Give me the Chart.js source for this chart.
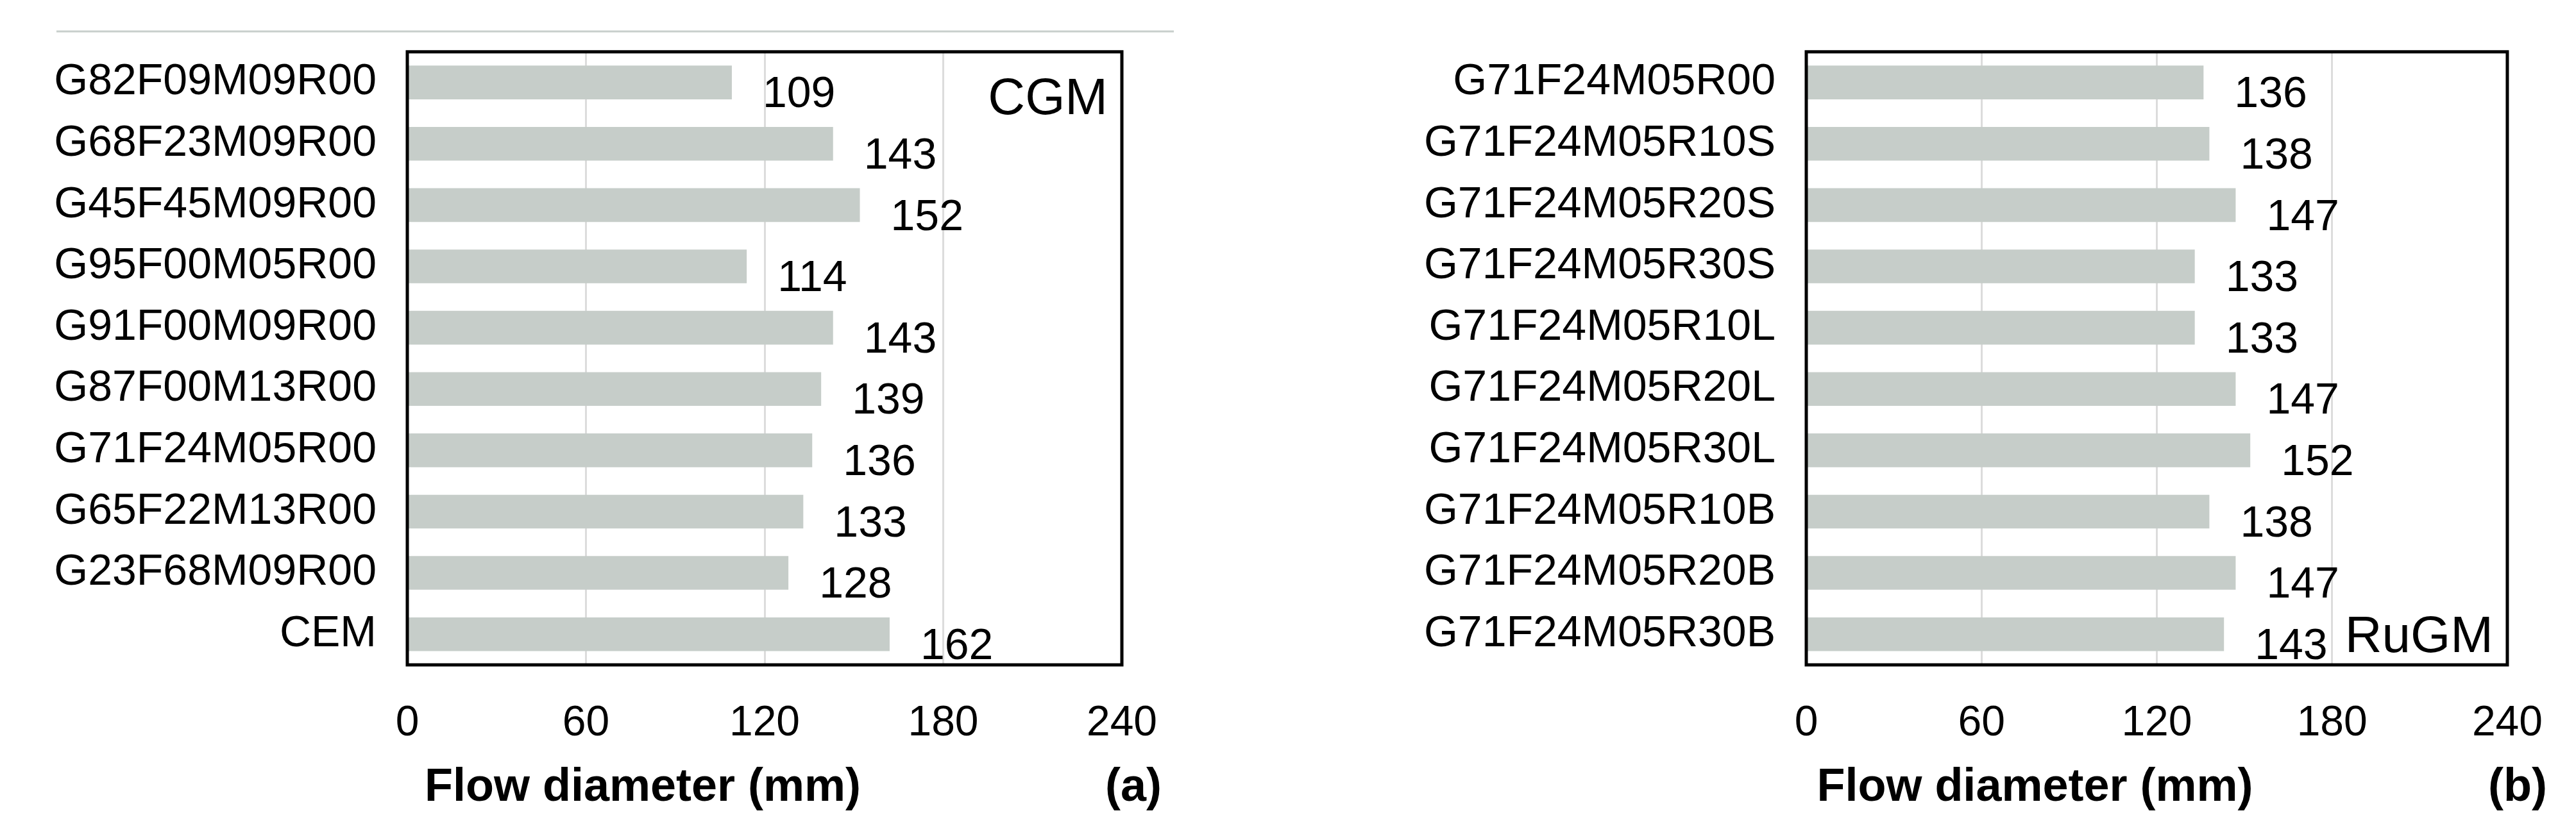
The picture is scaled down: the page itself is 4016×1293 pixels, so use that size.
<!DOCTYPE html>
<html><head><meta charset="utf-8">
<script src="https://cdn.jsdelivr.net/npm/chart.js@4"></script>
<style>body{margin:0;background:#fff;width:4016px;height:1293px;overflow:hidden}
.c{position:absolute;top:0;width:2008px;height:1293px}</style></head>
<body>
<div class="c" style="left:0"><canvas id="a" width="2008" height="1293"></canvas></div>
<div class="c" style="left:2008px"><canvas id="b" width="2008" height="1293"></canvas></div>
<script>
const labelsA=["G82F09M09R00","G68F23M09R00","G45F45M09R00","G95F00M05R00","G91F00M09R00","G87F00M13R00","G71F24M05R00","G65F22M13R00","G23F68M09R00","CEM"];
const valuesA=[109,143,152,114,143,139,136,133,128,162];
const labelsB=["G71F24M05R00","G71F24M05R10S","G71F24M05R20S","G71F24M05R30S","G71F24M05R10L","G71F24M05R20L","G71F24M05R30L","G71F24M05R10B","G71F24M05R20B","G71F24M05R30B"];
const valuesB=[136,138,147,133,133,147,152,138,147,143];
const xTicks=[0,60,120,180,240];
const F='"Liberation Sans", Arial, sans-serif';
function make(id,labels,values,tag,tagPos,letter,yW,padR,topLine){
  const deco={id:'deco',afterDatasetsDraw(c){
    const g=c.ctx,a=c.chartArea,m=c.getDatasetMeta(0);
    g.save();
    g.fillStyle='#000';g.font='68px '+F;g.textAlign='left';g.textBaseline='middle';
    m.data.forEach((b,i)=>g.fillText(String(values[i]),b.x+48,b.y+20));
    g.lineWidth=5;g.strokeStyle='#000';g.strokeRect(a.left,a.top,a.right-a.left,a.bottom-a.top);
    g.font='80px '+F;g.textAlign='right';
    g.fillText(tag,a.right-22,tagPos==='top'?a.top+75:a.bottom-42);
    g.font='bold 72px '+F;g.textAlign='center';
    g.fillText('Flow diameter (mm)',(a.left+a.right)/2-190,1229);
    g.textAlign='right';g.fillText(letter,a.right+62,1229);
    if(topLine){g.strokeStyle='#c8cfcc';g.lineWidth=3;g.beginPath();g.moveTo(88,49);g.lineTo(1830,49);g.stroke();}
    g.restore();}};
  new Chart(document.getElementById(id),{type:'bar',
    data:{labels,datasets:[{data:values,backgroundColor:'#c6cdc9',categoryPercentage:1,barPercentage:0.55}]},
    options:{indexAxis:'y',responsive:false,animation:false,events:[],
      layout:{padding:{top:51,right:padR,left:0,bottom:0}},
      plugins:{legend:{display:false},tooltip:{enabled:false}},
      scales:{
        x:{min:0,max:240,afterBuildTicks(s){s.ticks=xTicks.map(v=>({value:v}));},
          afterFit(s){s.height=256;},
          grid:{color:'#dcdcdc',lineWidth:3,drawTicks:false},border:{display:false},
          ticks:{color:'#000',font:{size:66,family:F},padding:52}},
        y:{afterFit(s){s.width=yW;},grid:{display:false},border:{display:false},
          ticks:{color:'#000',font:{size:68,family:F},padding:40}}}},
    plugins:[deco]});
}
make('a',labelsA,valuesA,'CGM','top','(a)',635,259,true);
make('b',labelsB,valuesB,'RuGM','bottom','(b)',808,107,false);
</script></body></html>
